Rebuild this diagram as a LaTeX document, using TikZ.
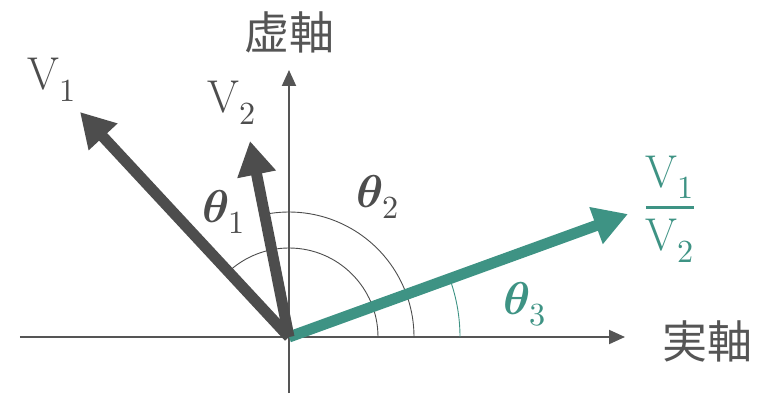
\documentclass[tikz,border=0pt]{standalone}
\usepackage{amsmath}
\usepackage{fontspec}
\usepackage{unicode-math}
\setmathfont{Latin Modern Math}
\usetikzlibrary{arrows.meta}
\newfontfamily\jpfont{Noto Sans CJK JP}
\definecolor{vgray}{HTML}{4D4D4D}
\definecolor{agray}{HTML}{555555}
\definecolor{vteal}{HTML}{3E9384}
\begin{document}
\begin{tikzpicture}[x=1pt,y=1pt,
  axis/.style={draw=agray,line width=2pt,-{Triangle[length=16pt,width=14pt]}},
  vec/.style={line width=11pt,-{Triangle[length=34pt,width=37pt]}},
  anglearc/.style={line width=0.9pt},
  lbl/.style={inner sep=0pt,font=\fontsize{46}{54}\selectfont},
  jplbl/.style={inner sep=0pt,text=agray,font=\jpfont\fontsize{45}{54}\selectfont}]
\useasboundingbox (-289,-60) rectangle (488,337);
\coordinate (O) at (0,0);
\coordinate (xs) at (-269,0);
\coordinate (xe) at (336,0);
\coordinate (ys) at (0,-56);
\coordinate (ye) at (0,267);
\coordinate (v1) at (-209,225);
\coordinate (v2) at (-39,196);
\coordinate (v3) at (339,123);
% axes
\draw[axis] (xs) -- (xe);
\draw[axis] (ys) -- (ye);
% arcs
\draw[anglearc,vgray] (O) ++(0:89) arc[start angle=0,end angle=132.9,radius=89];
\draw[anglearc,vgray] (O) ++(0:125) arc[start angle=0,end angle=101.3,radius=125];
\draw[anglearc,vteal] (O) ++(0:171) arc[start angle=0,end angle=19.9,radius=171];
% vectors
\draw[vec,vteal] (O) -- (v3);
\draw[vec,vgray] (O) -- (v1);
\draw[vec,vgray] (O) -- (v2);
% labels
\node[jplbl] (im) at (1,305) {虚軸};
\node[jplbl] (re) at (418,-4) {実軸};
\node[lbl,text=vgray,anchor=base] (lv1) at (-237,247) {$\mathrm{V}_1$};
\node[lbl,text=vgray,anchor=base] (lv2) at (-57,224) {$\mathrm{V}_2$};
\node[lbl,text=vgray,anchor=base] (t1) at (-65,115) {$\symbfit{\theta}_1$};
\node[lbl,text=vgray,anchor=base] (t2) at (89,130) {$\symbfit{\theta}_2$};
\node[lbl,text=vteal,anchor=base] (t3) at (236,23) {$\symbfit{\theta}_3$};
\node[lbl,text=vteal] (fr) at (381,128) {$\genfrac{}{}{2.6pt}{0}{\mathrm{V}_1}{\mathrm{V}_2}$};
\end{tikzpicture}
\end{document}
